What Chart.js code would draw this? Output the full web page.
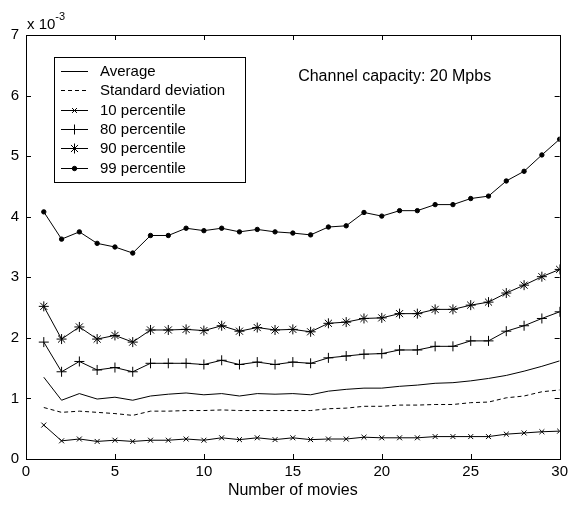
<!DOCTYPE html>
<html>
<head>
<meta charset="utf-8">
<script src="https://cdn.jsdelivr.net/npm/chart.js@4/dist/chart.umd.min.js"></script>
<style>
  html, body { margin: 0; padding: 0; background: #fff; }
</style>
</head>
<body>
<canvas id="myChart" width="572" height="505"></canvas>
<script>
// values are in units of 10^-3
const movies = [1, 2, 3, 4, 5, 6, 7, 8, 9, 10, 11, 12, 13, 14, 15, 16, 17, 18, 19, 20, 21, 22, 23, 24, 25, 26, 27, 28, 29, 30];
const average = [1.35, 0.97, 1.08, 0.99, 1.02, 0.97, 1.04, 1.07, 1.09, 1.06, 1.08, 1.04, 1.08, 1.07, 1.08, 1.06, 1.12, 1.15, 1.17, 1.17, 1.20, 1.22, 1.25, 1.26, 1.29, 1.33, 1.38, 1.45, 1.53, 1.62];
const stdDev = [0.85, 0.77, 0.79, 0.77, 0.75, 0.72, 0.79, 0.79, 0.80, 0.80, 0.81, 0.80, 0.80, 0.80, 0.80, 0.80, 0.83, 0.84, 0.87, 0.87, 0.89, 0.89, 0.90, 0.90, 0.93, 0.94, 1.01, 1.04, 1.11, 1.14];
const p10 = [0.56, 0.30, 0.33, 0.29, 0.31, 0.29, 0.31, 0.31, 0.33, 0.31, 0.35, 0.32, 0.35, 0.32, 0.35, 0.32, 0.33, 0.33, 0.36, 0.35, 0.35, 0.35, 0.37, 0.37, 0.37, 0.37, 0.41, 0.43, 0.45, 0.46];
const p80 = [1.93, 1.44, 1.61, 1.47, 1.51, 1.44, 1.58, 1.58, 1.58, 1.56, 1.63, 1.56, 1.60, 1.56, 1.60, 1.58, 1.67, 1.70, 1.73, 1.74, 1.80, 1.80, 1.86, 1.86, 1.95, 1.95, 2.11, 2.20, 2.32, 2.43];
const p90 = [2.52, 1.98, 2.18, 1.98, 2.04, 1.93, 2.13, 2.13, 2.14, 2.12, 2.20, 2.11, 2.17, 2.13, 2.14, 2.10, 2.24, 2.26, 2.32, 2.33, 2.40, 2.40, 2.47, 2.47, 2.54, 2.59, 2.74, 2.87, 3.01, 3.13];
const p99 = [4.08, 3.63, 3.75, 3.56, 3.50, 3.40, 3.69, 3.69, 3.81, 3.77, 3.81, 3.75, 3.79, 3.75, 3.73, 3.70, 3.83, 3.85, 4.07, 4.01, 4.10, 4.10, 4.20, 4.20, 4.30, 4.34, 4.59, 4.75, 5.02, 5.28];
const seriesNames = ['Average', 'Standard deviation', '10 percentile', '80 percentile', '90 percentile', '99 percentile'];
const xTicks = [0, 5, 10, 15, 20, 25, 30];
const yTicks = [0, 1, 2, 3, 4, 5, 6, 7];
const note = 'Channel capacity: 20 Mpbs';

const FONT = 'Liberation Sans, Arial, sans-serif';

function pts(vals) {
  return vals.map((v, i) => ({ x: movies[i], y: v }));
}

function series(label, vals, style, radius, dash) {
  return {
    label: label,
    data: pts(vals),
    borderColor: '#000',
    backgroundColor: '#000',
    borderWidth: 1,
    borderDash: dash || [],
    pointStyle: style || false,
    pointRadius: style ? radius : 0,
    pointBorderColor: '#000',
    pointBackgroundColor: '#000',
    pointBorderWidth: 1,
    tension: 0
  };
}

// box round the plot, inward ticks, exponent label, note and legend
const matlabLook = {
  id: 'matlabLook',
  afterDraw(chart) {
    const ctx = chart.ctx;
    const { left, right, top, bottom } = chart.chartArea;
    const x = chart.scales.x, y = chart.scales.y;
    ctx.save();
    ctx.strokeStyle = '#000';
    ctx.lineWidth = 1;
    ctx.strokeRect(Math.round(left) + 0.5, Math.round(top) + 0.5, Math.round(right - left), Math.round(bottom - top));

    ctx.beginPath();
    xTicks.forEach(v => {
      const px = Math.round(x.getPixelForValue(v)) + 0.5;
      ctx.moveTo(px, bottom); ctx.lineTo(px, bottom - 5);
      ctx.moveTo(px, top); ctx.lineTo(px, top + 5);
    });
    yTicks.forEach(v => {
      const py = Math.round(y.getPixelForValue(v)) + 0.5;
      ctx.moveTo(left, py); ctx.lineTo(left + 5, py);
      ctx.moveTo(right, py); ctx.lineTo(right - 5, py);
    });
    ctx.stroke();

    // x 10^-3
    ctx.fillStyle = '#000';
    ctx.textBaseline = 'middle';
    ctx.textAlign = 'left';
    ctx.font = '15px ' + FONT;
    ctx.fillText('x 10', left + 1, top - 10);
    const w = ctx.measureText('x 10').width;
    ctx.font = '11px ' + FONT;
    ctx.fillText('-3', left + 1 + w, top - 18);

    // note
    ctx.font = '16px ' + FONT;
    ctx.fillText(note, x.getPixelForValue(15.3), y.getPixelForValue(6.31));

    // legend
    const bx = left + 28, by = top + 22, bw = 191, bh = 125;
    ctx.fillStyle = '#fff';
    ctx.fillRect(bx, by, bw, bh);
    ctx.strokeRect(bx + 0.5, by + 0.5, bw, bh);
    chart.data.datasets.forEach((ds, i) => {
      const ry = Math.round(by + 14 + i * 19.3) + 0.5;
      ctx.strokeStyle = '#000';
      ctx.fillStyle = '#000';
      ctx.lineWidth = 1;
      ctx.setLineDash(ds.borderDash);
      ctx.beginPath();
      ctx.moveTo(bx + 7, ry); ctx.lineTo(bx + 34, ry);
      ctx.stroke();
      ctx.setLineDash([]);
      if (ds.pointStyle) {
        Chart.helpers.drawPoint(ctx, { pointStyle: ds.pointStyle, radius: ds.pointRadius, rotation: 0, borderWidth: 1 }, bx + 20.5, ry);
      }
      ctx.font = '15px ' + FONT;
      ctx.fillText(ds.label, bx + 46, ry);
    });
    ctx.restore();
  }
};

const ctx = document.getElementById('myChart').getContext('2d');
const chart = new Chart(ctx, {
  type: 'line',
  data: {
    datasets: [
      series(seriesNames[0], average),
      series(seriesNames[1], stdDev, null, 0, [4, 3]),
      series(seriesNames[2], p10, 'crossRot', 3.5),
      series(seriesNames[3], p80, 'cross', 5),
      series(seriesNames[4], p90, 'star', 5),
      series(seriesNames[5], p99, 'circle', 2.2)
    ]
  },
  options: {
    responsive: false,
    animation: false,
    layout: { padding: { top: 35, right: 9, left: 0, bottom: 0 } },
    plugins: { legend: { display: false }, tooltip: { enabled: false } },
    scales: {
      x: {
        type: 'linear',
        min: 0,
        max: 30,
        afterBuildTicks: s => { s.ticks = xTicks.map(v => ({ value: v })); },
        afterFit: s => { s.height = 46; },
        grid: { display: false, drawTicks: false },
        border: { display: false },
        ticks: { color: '#000', font: { family: FONT, size: 15 }, padding: 4, maxRotation: 0 },
        title: { display: true, text: 'Number of movies', color: '#000', font: { family: FONT, size: 16 }, padding: { top: 0, bottom: 5 } }
      },
      y: {
        min: 0,
        max: 7,
        afterBuildTicks: s => { s.ticks = yTicks.map(v => ({ value: v })); },
        afterFit: s => { s.width = 26; },
        grid: { display: false, drawTicks: false },
        border: { display: false },
        ticks: { color: '#000', font: { family: FONT, size: 15 }, padding: 7 }
      }
    }
  },
  plugins: [matlabLook]
});
</script>
</body>
</html>
